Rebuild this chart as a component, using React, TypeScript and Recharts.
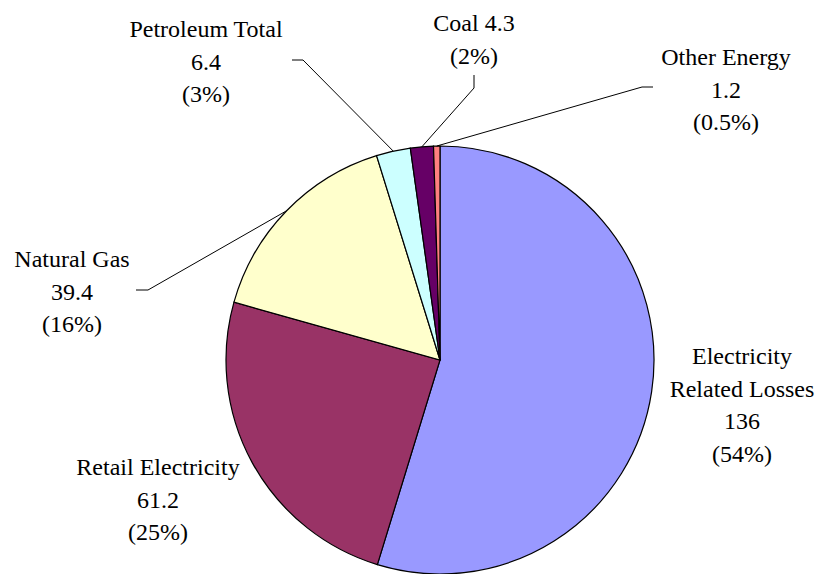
import { PieChart, Pie, Cell } from "recharts";

const NAMES = [
  "Electricity Related Losses",
  "Retail Electricity",
  "Natural Gas",
  "Petroleum Total",
  "Coal",
  "Other Energy",
];
const VALUES = [136, 61.2, 39.4, 6.4, 4.3, 1.2];
const VALUE_TEXT = ["136", "61.2", "39.4", "6.4", "4.3", "1.2"];
const PERCENT_TEXT = ["54%", "25%", "16%", "3%", "2%", "0.5%"];

const COLORS = ["#9999FF", "#993366", "#FFFFCC", "#CCFFFF", "#660066", "#FF8080"];
const FONT = '"Liberation Serif", "Times New Roman", serif';
const LINE_H = 32.5;

// label layout: name split over lines, whether value sits on the name line, anchor (center x, first baseline)
const LABELS = [
  { lines: ["Electricity", "Related Losses"], inline: false, x: 742, y: 364 },
  { lines: ["Retail Electricity"], inline: false, x: 158, y: 475 },
  { lines: ["Natural Gas"], inline: false, x: 72, y: 267 },
  { lines: ["Petroleum Total"], inline: false, x: 206, y: 37 },
  { lines: ["Coal"], inline: true, x: 474, y: 31 },
  { lines: ["Other Energy"], inline: false, x: 726, y: 65 },
];

// leader line elbows near the label text (null = no leader)
const ELBOWS: (number[][] | null)[] = [
  null,
  null,
  [[136, 290], [148, 290]],
  [[292, 60], [303, 60]],
  [[474, 75], [474, 88]],
  [[653, 87], [642, 87]],
];

const data = NAMES.map((name, i) => ({ name, value: VALUES[i] }));

function labelRows(i: number) {
  const l = LABELS[i];
  return l.inline
    ? [`${l.lines[l.lines.length - 1]} ${VALUE_TEXT[i]}`, `(${PERCENT_TEXT[i]})`]
    : [...l.lines, VALUE_TEXT[i], `(${PERCENT_TEXT[i]})`];
}

function renderLabel(props: any) {
  const i = props.index;
  const l = LABELS[i];
  return (
    <text key={`lbl-${i}`} className="pie-lbl" textAnchor="middle" fontFamily={FONT} fontSize={24} fill="#000">
      {labelRows(i).map((r, k) => (
        <tspan key={k} x={l.x} y={l.y + k * LINE_H}>{r}</tspan>
      ))}
    </text>
  );
}

function renderLine(props: any) {
  const i = props.index;
  const e = ELBOWS[i];
  if (!e) return <g key={`ll-${i}`} />;
  const p = props.points[0];
  const pts = [...e, [p.x, p.y]].map((q) => q.join(",")).join(" ");
  return <polyline key={`ll-${i}`} points={pts} fill="none" stroke="#000" strokeWidth={1} />;
}

export default function App() {
  return (
    <div id="chart" style={{ position: "absolute", left: 0, top: 0, width: 819, height: 574, background: "#fff" }}>
      <style>{`
        #root #chart svg text.pie-lbl, #root #chart svg text.pie-lbl tspan {
          font-family: "Liberation Serif", "Times New Roman", serif !important;
          font-size: 24px !important;
        }
      `}</style>
      <PieChart width={819} height={574} margin={{ top: 0, right: 0, bottom: 0, left: 0 }}>
        <Pie
          data={data}
          dataKey="value"
          nameKey="name"
          cx={440}
          cy={360}
          outerRadius={214}
          startAngle={90}
          endAngle={-270}
          stroke="#000"
          strokeWidth={1.2}
          label={renderLabel}
          labelLine={renderLine}
          isAnimationActive={false}
        >
          {data.map((_, i) => (
            <Cell key={i} fill={COLORS[i]} />
          ))}
        </Pie>
      </PieChart>
    </div>
  );
}
